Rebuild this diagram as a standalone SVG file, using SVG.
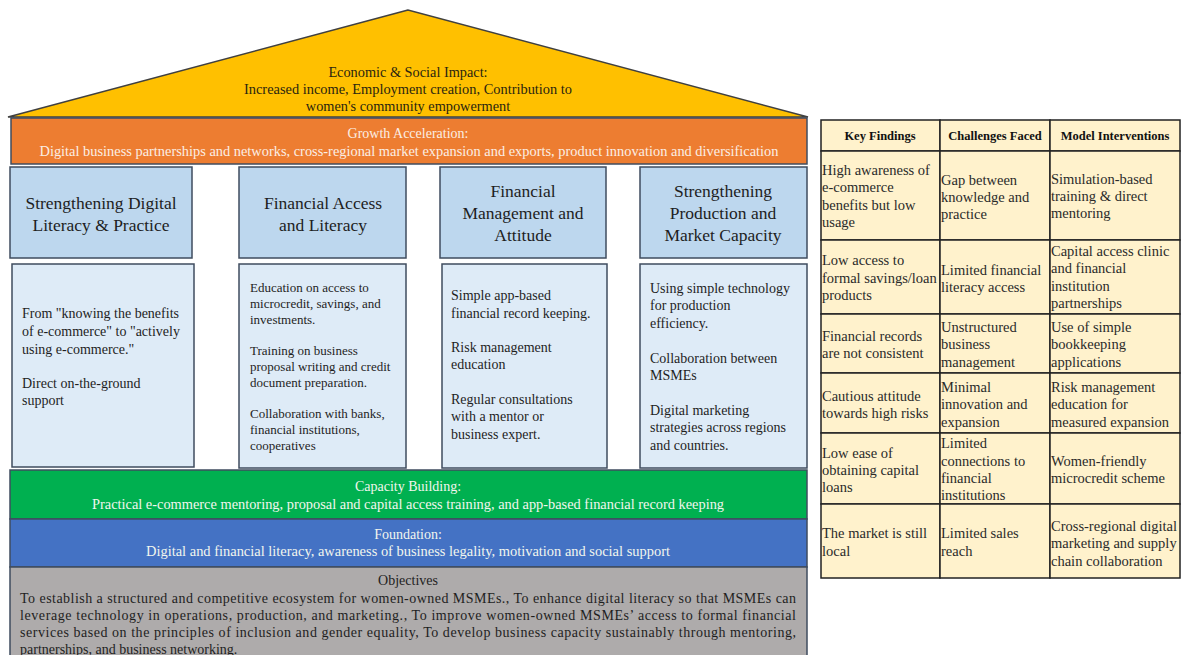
<svg xmlns="http://www.w3.org/2000/svg" width="1184" height="655" viewBox="0 0 1184 655">
<style>
text{font-family:"Liberation Serif","Times New Roman",serif;fill:#1e1e1e}
.c{text-anchor:middle}
.box{stroke:#3f4c5f;stroke-width:1.5}
.hd{fill:#bdd7ee}
.bd{fill:#deebf7}
.ht{font-size:17.5px}
.b13{font-size:13px}
.b14{font-size:14px}
.w{fill:#fbeee4}
.ww{fill:#f2f6ee}
.cell{fill:#fff2cc;stroke:#222;stroke-width:1.5}
.tt{font-size:14.5px;fill:#2a2a2a}
.th{font-size:12.5px;font-weight:bold;fill:#111}
.rt{font-size:14.3px;fill:#2a2510}
</style>
<rect width="1184" height="655" fill="#ffffff"/>
<g id="roof">
<polygon points="408,10 8,117 808,117" fill="#ffc000" stroke="#404040" stroke-width="1.5"/>
<text class="c rt" x="408" y="77">Economic &amp; Social Impact:</text>
<text class="c rt" x="408" y="94" textLength="328" lengthAdjust="spacingAndGlyphs">Increased income, Employment creation, Contribution to</text>
<text class="c rt" x="408" y="111">women's community empowerment</text>
</g>
<g id="growth">
<rect class="box" x="11" y="118" width="796" height="46" fill="#ed7d31"/>
<text class="c w" x="408" y="138" font-size="14">Growth Acceleration:</text>
<text class="c w" x="409" y="156" font-size="14" textLength="739" lengthAdjust="spacingAndGlyphs">Digital business partnerships and networks, cross-regional market expansion and exports, product innovation and diversification</text>
</g>
<g id="pillar1">
<rect class="box hd" x="10" y="167" width="182" height="91"/>
<text class="c ht" x="101" y="209">Strengthening Digital</text>
<text class="c ht" x="101" y="231">Literacy &amp; Practice</text>
<rect class="box bd" x="12" y="264" width="182" height="203"/>
<text class="b14" x="22" y="318">From "knowing the benefits</text>
<text class="b14" x="22" y="336">of e-commerce" to "actively</text>
<text class="b14" x="22" y="354">using e-commerce."</text>
<text class="b14" x="22" y="388">Direct on-the-ground</text>
<text class="b14" x="22" y="405">support</text>
</g>
<g id="pillar2">
<rect class="box hd" x="239" y="167" width="167" height="91"/>
<text class="c ht" x="323" y="209">Financial Access</text>
<text class="c ht" x="323" y="231">and Literacy</text>
<rect class="box bd" x="239" y="264" width="167" height="204"/>
<text class="b13" x="250" y="292">Education on access to</text>
<text class="b13" x="250" y="308">microcredit, savings, and</text>
<text class="b13" x="250" y="324">investments.</text>
<text class="b13" x="250" y="355">Training on business</text>
<text class="b13" x="250" y="371">proposal writing and credit</text>
<text class="b13" x="250" y="387">document preparation.</text>
<text class="b13" x="250" y="418">Collaboration with banks,</text>
<text class="b13" x="250" y="434">financial institutions,</text>
<text class="b13" x="250" y="450">cooperatives</text>
</g>
<g id="pillar3">
<rect class="box hd" x="440" y="167" width="166" height="91"/>
<text class="c ht" x="523" y="197">Financial</text>
<text class="c ht" x="523" y="219">Management and</text>
<text class="c ht" x="523" y="241">Attitude</text>
<rect class="box bd" x="442" y="264" width="165" height="204"/>
<text class="b14" x="451" y="300">Simple app-based</text>
<text class="b14" x="451" y="318">financial record keeping.</text>
<text class="b14" x="451" y="352">Risk management</text>
<text class="b14" x="451" y="369">education</text>
<text class="b14" x="451" y="404">Regular consultations</text>
<text class="b14" x="451" y="421">with a mentor or</text>
<text class="b14" x="451" y="439">business expert.</text>
</g>
<g id="pillar4">
<rect class="box hd" x="640" y="167" width="167" height="91"/>
<text class="c ht" x="723" y="197">Strengthening</text>
<text class="c ht" x="723" y="219">Production and</text>
<text class="c ht" x="723" y="241">Market Capacity</text>
<rect class="box bd" x="640" y="264" width="167" height="204"/>
<text class="b14" x="650" y="293">Using simple technology</text>
<text class="b14" x="650" y="310">for production</text>
<text class="b14" x="650" y="328">efficiency.</text>
<text class="b14" x="650" y="363">Collaboration between</text>
<text class="b14" x="650" y="380">MSMEs</text>
<text class="b14" x="650" y="415">Digital marketing</text>
<text class="b14" x="650" y="432">strategies across regions</text>
<text class="b14" x="650" y="450">and countries.</text>
</g>
<g id="capacity">
<rect class="box" x="10" y="470" width="797" height="49" fill="#00b050"/>
<text class="c ww" x="408" y="491" font-size="14">Capacity Building:</text>
<text class="c ww" x="408" y="509" font-size="14" textLength="632" lengthAdjust="spacingAndGlyphs">Practical e-commerce mentoring, proposal and capital access training, and app-based financial record keeping</text>
</g>
<g id="foundation">
<rect class="box" x="10" y="519" width="797" height="48" fill="#4472c4"/>
<text class="c ww" x="408" y="539" font-size="14">Foundation:</text>
<text class="c ww" x="408" y="556" font-size="14" textLength="524" lengthAdjust="spacingAndGlyphs">Digital and financial literacy, awareness of business legality, motivation and social support</text>
</g>
<g id="objectives">
<rect class="box" x="10" y="567" width="797" height="92" fill="#aeabab"/>
<text class="c" x="408" y="585" font-size="14">Objectives</text>
<text x="20" y="603" font-size="14" textLength="776" lengthAdjust="spacing">To establish a structured and competitive ecosystem for women-owned MSMEs., To enhance digital literacy so that MSMEs can</text>
<text x="20" y="620" font-size="14" textLength="776" lengthAdjust="spacing">leverage technology in operations, production, and marketing., To improve women-owned MSMEs’ access to formal financial</text>
<text x="20" y="637" font-size="14" textLength="776" lengthAdjust="spacing">services based on the principles of inclusion and gender equality, To develop business capacity sustainably through mentoring,</text>
<text x="20" y="654" font-size="14">partnerships, and business networking.</text>
</g>
<g id="table">
<rect class="cell" x="821" y="120" width="119" height="31"/>
<rect class="cell" x="940" y="120" width="110" height="31"/>
<rect class="cell" x="1050" y="120" width="130" height="31"/>
<rect class="cell" x="821" y="151" width="119" height="89"/>
<rect class="cell" x="940" y="151" width="110" height="89"/>
<rect class="cell" x="1050" y="151" width="130" height="89"/>
<rect class="cell" x="821" y="240" width="119" height="74"/>
<rect class="cell" x="940" y="240" width="110" height="74"/>
<rect class="cell" x="1050" y="240" width="130" height="74"/>
<rect class="cell" x="821" y="314" width="119" height="59"/>
<rect class="cell" x="940" y="314" width="110" height="59"/>
<rect class="cell" x="1050" y="314" width="130" height="59"/>
<rect class="cell" x="821" y="373" width="119" height="60"/>
<rect class="cell" x="940" y="373" width="110" height="60"/>
<rect class="cell" x="1050" y="373" width="130" height="60"/>
<rect class="cell" x="821" y="433" width="119" height="71"/>
<rect class="cell" x="940" y="433" width="110" height="71"/>
<rect class="cell" x="1050" y="433" width="130" height="71"/>
<rect class="cell" x="821" y="504" width="119" height="74"/>
<rect class="cell" x="940" y="504" width="110" height="74"/>
<rect class="cell" x="1050" y="504" width="130" height="74"/>
<text class="th c" x="880" y="140">Key Findings</text>
<text class="th c" x="995" y="140">Challenges Faced</text>
<text class="th c" x="1115" y="140">Model Interventions</text>
<text class="tt" x="822" y="175">High awareness of</text>
<text class="tt" x="822" y="192">e-commerce</text>
<text class="tt" x="822" y="210">benefits but low</text>
<text class="tt" x="822" y="227">usage</text>
<text class="tt" x="941" y="185">Gap between</text>
<text class="tt" x="941" y="202">knowledge and</text>
<text class="tt" x="941" y="219">practice</text>
<text class="tt" x="1051" y="184">Simulation-based</text>
<text class="tt" x="1051" y="201">training &amp; direct</text>
<text class="tt" x="1051" y="218">mentoring</text>
<text class="tt" x="822" y="265">Low access to</text>
<text class="tt" x="822" y="283">formal savings/loan</text>
<text class="tt" x="822" y="300">products</text>
<text class="tt" x="941" y="275">Limited financial</text>
<text class="tt" x="941" y="292">literacy access</text>
<text class="tt" x="1051" y="256">Capital access clinic</text>
<text class="tt" x="1051" y="273">and financial</text>
<text class="tt" x="1051" y="291">institution</text>
<text class="tt" x="1051" y="308">partnerships</text>
<text class="tt" x="822" y="341">Financial records</text>
<text class="tt" x="822" y="358">are not consistent</text>
<text class="tt" x="941" y="332">Unstructured</text>
<text class="tt" x="941" y="349">business</text>
<text class="tt" x="941" y="367">management</text>
<text class="tt" x="1051" y="332">Use of simple</text>
<text class="tt" x="1051" y="349">bookkeeping</text>
<text class="tt" x="1051" y="367">applications</text>
<text class="tt" x="822" y="401">Cautious attitude</text>
<text class="tt" x="822" y="418">towards high risks</text>
<text class="tt" x="941" y="392">Minimal</text>
<text class="tt" x="941" y="409">innovation and</text>
<text class="tt" x="941" y="427">expansion</text>
<text class="tt" x="1051" y="392">Risk management</text>
<text class="tt" x="1051" y="409">education for</text>
<text class="tt" x="1051" y="427">measured expansion</text>
<text class="tt" x="822" y="458">Low ease of</text>
<text class="tt" x="822" y="475">obtaining capital</text>
<text class="tt" x="822" y="492">loans</text>
<text class="tt" x="941" y="448">Limited</text>
<text class="tt" x="941" y="466">connections to</text>
<text class="tt" x="941" y="483">financial</text>
<text class="tt" x="941" y="500">institutions</text>
<text class="tt" x="1051" y="466">Women-friendly</text>
<text class="tt" x="1051" y="483">microcredit scheme</text>
<text class="tt" x="822" y="538">The market is still</text>
<text class="tt" x="822" y="556">local</text>
<text class="tt" x="941" y="538">Limited sales</text>
<text class="tt" x="941" y="556">reach</text>
<text class="tt" x="1051" y="531">Cross-regional digital</text>
<text class="tt" x="1051" y="548">marketing and supply</text>
<text class="tt" x="1051" y="566">chain collaboration</text>
</g>
<g id="connectors"/>
</svg>
